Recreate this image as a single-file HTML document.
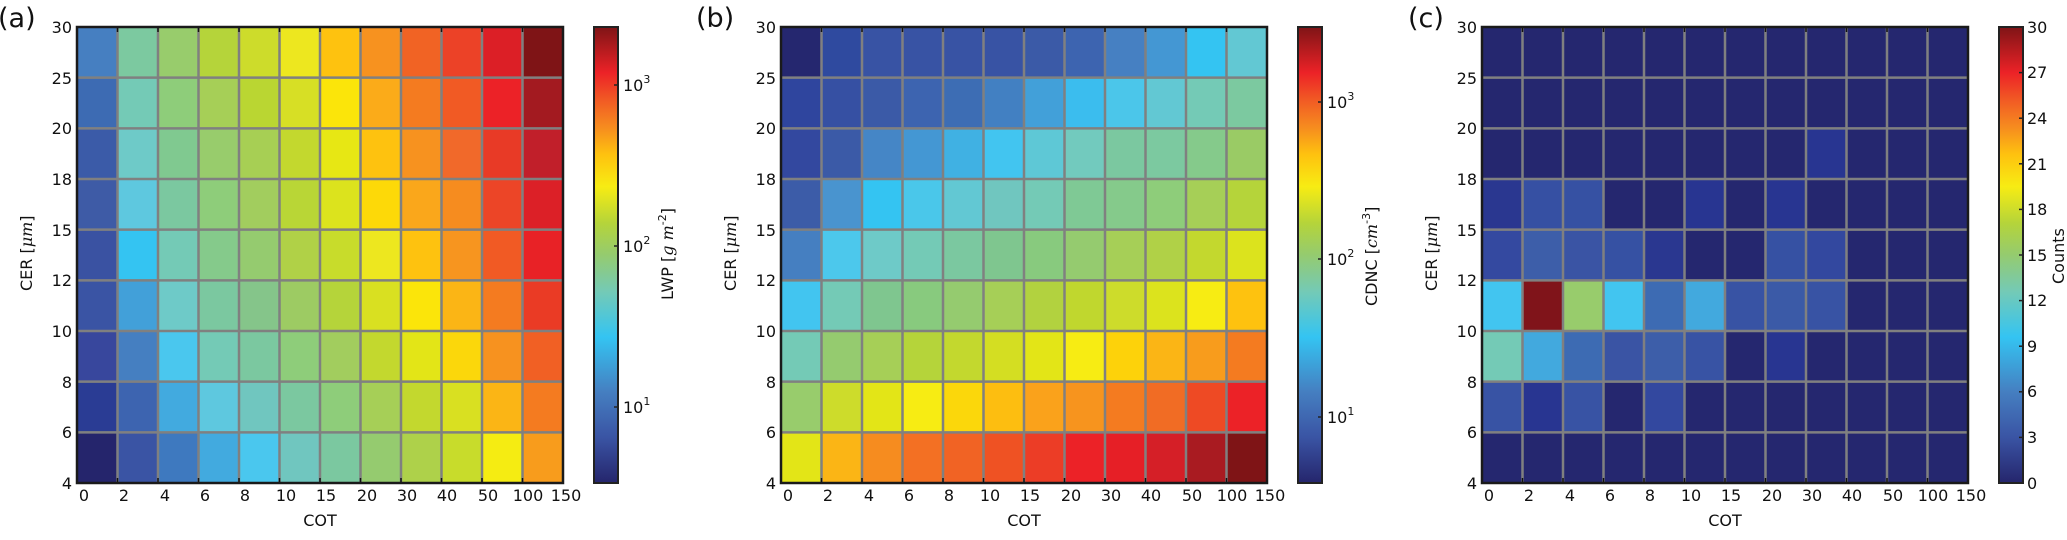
<!DOCTYPE html>
<html><head><meta charset="utf-8"><style>
html,body{margin:0;padding:0;background:#fff;}
svg{display:block;font-family:"DejaVu Sans","Liberation Sans",sans-serif;}
.t{font-size:16px;fill:#111;}
.p{font-size:27px;fill:#111;}
.m{font-family:"DejaVu Serif","Liberation Serif",serif;font-style:italic;}
</style></head><body>
<svg id="s" width="2067" height="540" viewBox="0 0 2067 540" xmlns="http://www.w3.org/2000/svg">
<defs>
<linearGradient id="cb" x1="0" y1="1" x2="0" y2="0">
<stop offset="0" stop-color="#25256c"/><stop offset="0.1" stop-color="#3a54a4"/><stop offset="0.2" stop-color="#457fc1"/><stop offset="0.32" stop-color="#34c4f2"/><stop offset="0.42" stop-color="#74cab6"/><stop offset="0.5" stop-color="#95cb6f"/><stop offset="0.57" stop-color="#b5d43a"/><stop offset="0.65" stop-color="#f7ec13"/><stop offset="0.72" stop-color="#fec20f"/><stop offset="0.78" stop-color="#f68c1f"/><stop offset="0.84" stop-color="#f15a24"/><stop offset="0.9" stop-color="#ec2227"/><stop offset="1" stop-color="#7f1416"/>
</linearGradient>
</defs>
<g id="cells"></g>
<rect x="594" y="27" width="24" height="456" fill="url(#cb)" stroke="#222" stroke-width="2"/>
<rect x="1298" y="27" width="24" height="456" fill="url(#cb)" stroke="#222" stroke-width="2"/>
<rect x="1999" y="27" width="24" height="456" fill="url(#cb)" stroke="#222" stroke-width="2"/>
<g stroke="#222" stroke-width="1.5">
<line x1="614" y1="85" x2="618" y2="85"/><line x1="614" y1="246" x2="618" y2="246"/><line x1="614" y1="407" x2="618" y2="407"/>
<line x1="1318" y1="102" x2="1322" y2="102"/><line x1="1318" y1="259" x2="1322" y2="259"/><line x1="1318" y1="417" x2="1322" y2="417"/>
</g>
<g id="cbt" stroke="#222" stroke-width="1.5"></g>
<text class="p" x="-2" y="27">(a)</text>
<text class="p" x="696" y="27">(b)</text>
<text class="p" x="1408" y="27">(c)</text>
<g class="t">
<text x="623" y="91">10<tspan dy="-8" font-size="11">3</tspan></text>
<text x="623" y="252">10<tspan dy="-8" font-size="11">2</tspan></text>
<text x="623" y="413">10<tspan dy="-8" font-size="11">1</tspan></text>
<text x="1327" y="108">10<tspan dy="-8" font-size="11">3</tspan></text>
<text x="1327" y="265">10<tspan dy="-8" font-size="11">2</tspan></text>
<text x="1327" y="423">10<tspan dy="-8" font-size="11">1</tspan></text>
<text x="2027" y="33">30</text><text x="2027" y="78">27</text><text x="2027" y="124">24</text><text x="2027" y="170">21</text><text x="2027" y="215">18</text><text x="2027" y="261">15</text><text x="2027" y="306">12</text><text x="2027" y="352">9</text><text x="2027" y="397">6</text><text x="2027" y="443">3</text><text x="2027" y="489">0</text>
</g>
<text class="t" transform="translate(673,300) rotate(-90)">LWP [<tspan class="m">g m</tspan><tspan dy="-7" font-size="11">-2</tspan><tspan dy="7">]</tspan></text>
<text class="t" transform="translate(1377,306) rotate(-90)">CDNC [<tspan class="m">cm</tspan><tspan dy="-7" font-size="11">-3</tspan><tspan dy="7">]</tspan></text>
<text class="t" transform="translate(2064,284) rotate(-90)">Counts</text>
<text class="t" transform="translate(32,291) rotate(-90)">CER [<tspan class="m">μm</tspan>]</text>
<text class="t" transform="translate(736,291) rotate(-90)">CER [<tspan class="m">μm</tspan>]</text>
<text class="t" transform="translate(1437,291) rotate(-90)">CER [<tspan class="m">μm</tspan>]</text>
<text class="t" x="320" y="526" text-anchor="middle">COT</text>
<text class="t" x="1024" y="526" text-anchor="middle">COT</text>
<text class="t" x="1725" y="526" text-anchor="middle">COT</text>
<g class="t" text-anchor="end">
<text x="72" y="33">30</text><text x="72" y="84">25</text><text x="72" y="134">20</text><text x="72" y="185">18</text><text x="72" y="236">15</text><text x="72" y="286">12</text><text x="72" y="337">10</text><text x="72" y="388">8</text><text x="72" y="438">6</text><text x="72" y="489">4</text>
<text x="776" y="33">30</text><text x="776" y="84">25</text><text x="776" y="134">20</text><text x="776" y="185">18</text><text x="776" y="236">15</text><text x="776" y="286">12</text><text x="776" y="337">10</text><text x="776" y="388">8</text><text x="776" y="438">6</text><text x="776" y="489">4</text>
<text x="1477" y="33">30</text><text x="1477" y="84">25</text><text x="1477" y="134">20</text><text x="1477" y="185">18</text><text x="1477" y="236">15</text><text x="1477" y="286">12</text><text x="1477" y="337">10</text><text x="1477" y="388">8</text><text x="1477" y="438">6</text><text x="1477" y="489">4</text>
</g>
<g class="t" text-anchor="middle">
<text x="84" y="501">0</text><text x="124" y="501">2</text><text x="165" y="501">4</text><text x="205" y="501">6</text><text x="245" y="501">8</text><text x="286" y="501">10</text><text x="326" y="501">15</text><text x="367" y="501">20</text><text x="407" y="501">30</text><text x="447" y="501">40</text><text x="488" y="501">50</text><text x="528" y="501">100</text><text x="566" y="501">150</text>
<text x="788" y="501">0</text><text x="828" y="501">2</text><text x="869" y="501">4</text><text x="909" y="501">6</text><text x="949" y="501">8</text><text x="990" y="501">10</text><text x="1030" y="501">15</text><text x="1071" y="501">20</text><text x="1111" y="501">30</text><text x="1151" y="501">40</text><text x="1192" y="501">50</text><text x="1232" y="501">100</text><text x="1270" y="501">150</text>
<text x="1489" y="501">0</text><text x="1529" y="501">2</text><text x="1570" y="501">4</text><text x="1610" y="501">6</text><text x="1650" y="501">8</text><text x="1691" y="501">10</text><text x="1731" y="501">15</text><text x="1772" y="501">20</text><text x="1812" y="501">30</text><text x="1852" y="501">40</text><text x="1893" y="501">50</text><text x="1933" y="501">100</text><text x="1971" y="501">150</text>
</g>
</svg>
<script>
var A=[
"#467fc1 #7cc9a0 #98cc6c #b5d43a #cddc2b #ede71f #fec20f #f7921f #f16324 #ec4227 #dc1f26 #7f1416",
"#3d6bb3 #74cab6 #8ecd7a #a6cf57 #bad632 #d7df25 #fbe50a #fbab19 #f47b20 #f15a24 #ec2227 #a31a20",
"#3b5ba8 #6ecac8 #80c990 #98cc6c #a7cf54 #c3d82e #e7e714 #fec20f #f7921f #f1692a #e83a26 #c11f2a",
"#3e5ba6 #5ec8df #7bc8a0 #8ecd7a #a2cd5e #b9d636 #dce31d #fdd908 #faa71b #f68c1f #ec4527 #dc2027",
"#3a52a2 #34c4f2 #74cab6 #85ca8b #95cb6f #b0d147 #c8dc2b #ede71f #fec20f #f7951f #f15a24 #e82226",
"#3a54a4 #42a0d9 #6ecac8 #7bc8a0 #85c58a #9dcb63 #b5d43a #d9e021 #fbe50a #fbb515 #f47b20 #ea3b25",
"#38479d #457fc1 #4ac7ee #74cab6 #7bc8a0 #8ecd7a #a2cd5e #c3d82e #e3e517 #fbd70b #f7921f #f16024",
"#2a3c94 #3d64b0 #42aadf #5ec8df #70c6bf #7bc8a0 #8ecd7a #a6cf57 #c3d82e #d9e021 #fbb515 #f47b20",
"#25256c #3a54a4 #3e79bf #42aadf #4ac7ee #70c6bf #7bc8a0 #95cb6f #aed14a #c8dc2b #f5ec12 #f89c1c"];
var B=[
"#25276f #2f4a9f #3853a4 #3853a4 #3853a4 #3853a4 #3b5aa7 #3d64b0 #4680c2 #4497d3 #34c4f2 #62c8d3",
"#2f459e #3650a3 #3b5aa7 #3d64b0 #3d6db4 #4280c2 #42a0d9 #3bbdee #4bc6ea #62c8d3 #74cab6 #7cc9a0",
"#33489f #3b5aa7 #4586c6 #4497d3 #40b1e3 #42c5f0 #5ec8d6 #72cabe #7bc8a0 #7cc9a0 #85ca8b #9acb65",
"#3c5ca8 #4994cf #34c4f2 #4ac7ea #62c8d3 #70c6bf #74cab6 #7fc995 #85ca8b #8ecd7a #a6cf57 #b5d43a",
"#457fc1 #4cc8ec #6ecac8 #74cab6 #7bc8a0 #7fc68f #88ca7e #95cb6f #a6cf57 #b0d147 #c3d82e #dce31d",
"#42c5f0 #74cab6 #7fc68f #88ca7e #95cb6f #a6cf57 #b2d23f #c0d72e #cddc2b #dce31d #f7ec13 #fec20f",
"#74cab6 #95cb6f #a6cf57 #b5d43a #c3d82e #d4de22 #e3e517 #f7ec13 #fdd20a #fbb515 #f89c1c #f47b20",
"#98cc6c #cddc2b #e3e517 #f7ec13 #fbd70b #fdbe10 #faa21b #f7941e #f47b20 #f16c24 #ee4a24 #ec2227",
"#e3e517 #fbb515 #f68c1f #f37023 #f16324 #ef5223 #ec3d26 #ec2227 #e61f26 #d51f27 #a91b21 #7f1416"];
var N="#25276f";
var C=[];for(var r=0;r<9;r++){C.push([]);for(var c=0;c<12;c++)C[r].push(N);}
C[2][8]="#283591";
C[3]=["#2a3790","#3650a3","#3651a3",N,N,"#283591",N,"#283591",N,N,N,N];
C[4]=["#3449a0","#3d5ea9","#3a54a4","#3651a3","#2a3790",N,N,"#3651a3","#33489f",N,N,N];
C[5]=["#42c5f0","#80141a","#98cc6c","#42c5f0","#3d6bb3","#42a9de","#3853a4","#3b5aa7","#3853a4",N,N,N];
C[6]=["#74cab6","#42a9de","#3d6bb3","#3a54a4","#3d5ea9","#3853a4",N,"#283591",N,N,N,N];
C[7]=["#3853a4","#283591","#3853a4",N,"#33489f",N,N,N,N,N,N,N];
var ns="http://www.w3.org/2000/svg",g=document.getElementById("cells");
function el(t,a){var e=document.createElementNS(ns,t);for(var k in a)e.setAttribute(k,a[k]);g.appendChild(e);return e;}
function panel(L,M){
 var W=40.5,H=456/9,T=27;
 for(var r=0;r<9;r++)for(var c=0;c<12;c++){var col=typeof M[r]=="string"?M[r].split(" ")[c]:M[r][c];
  el("rect",{x:L+c*W,y:T+r*H,width:W+0.5,height:H+0.5,fill:col});}
 for(var c=1;c<12;c++)el("line",{x1:L+c*W,y1:T,x2:L+c*W,y2:T+456,stroke:"#808080","stroke-width":2.5});
 for(var r=1;r<9;r++)el("line",{x1:L,y1:T+r*H,x2:L+486,y2:T+r*H,stroke:"#808080","stroke-width":2.5});
 for(var c=1;c<12;c++){el("line",{x1:L+c*W,y1:T,x2:L+c*W,y2:T+5,stroke:"#111","stroke-width":1.5});el("line",{x1:L+c*W,y1:T+456,x2:L+c*W,y2:T+451,stroke:"#111","stroke-width":1.5});}
 el("rect",{x:L,y:T,width:486,height:456,fill:"none",stroke:"#1a1a1a","stroke-width":2.5});
}
panel(77,A);panel(781,B);panel(1482,C);
var cb=document.getElementById("cbt");
for(var i=1;i<10;i++){var y=27+456-i*45.6;var l=document.createElementNS(ns,"line");l.setAttribute("x1",2019);l.setAttribute("x2",2023);l.setAttribute("y1",y);l.setAttribute("y2",y);cb.appendChild(l);}
</script>
</body></html>
